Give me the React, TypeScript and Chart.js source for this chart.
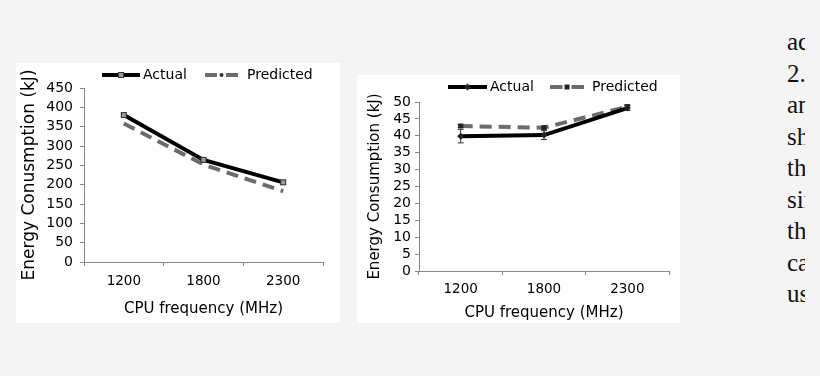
import React, { useEffect, useRef } from 'react';
import { Chart, registerables } from 'chart.js';

Chart.register(...registerables);

// ---------- data ----------
const categories = ['1200', '1800', '2300'];

const leftActual = [380, 264, 206];
const leftPredicted = [358, 252, 183];
const leftActualErr = [3, 3, 5];
const leftYMax = 450;
const leftYStep = 50;

const rightActual = [39.9, 40.2, 48.2];
const rightPredicted = [42.9, 42.4, 48.6];
const rightActualErr = [2.0, 1.3, 0.7];
const rightPredictedErr = [0.4, 0.4, 0.6];
const rightYMax = 50;
const rightYStep = 5;

const seriesNames = ['Actual', 'Predicted'];
const xTitle = 'CPU frequency (MHz)';
const leftYTitle = 'Energy Conusmption (kJ)';
const rightYTitle = 'Energy Consumption (kJ)';

const sideWords = ['actual', '2.', 'and', 'shows', 'the', 'since', 'that', 'can', 'use'];

// ---------- styling ----------
const FONT = "'DejaVu Sans', Verdana, sans-serif";
const AXIS = '#868686';
const ACT = '#000000';
const PRED = '#6b6b6b';

function drawMarker(ctx: CanvasRenderingContext2D, kind: string, x: number, y: number) {
  ctx.save();
  if (kind === 'hollowSquare') {
    ctx.fillStyle = '#9a9a9a';
    ctx.strokeStyle = '#333';
    ctx.lineWidth = 1;
    ctx.fillRect(x - 2.5, y - 2.5, 5, 5);
    ctx.strokeRect(x - 2.5, y - 2.5, 5, 5);
  } else if (kind === 'diamond') {
    ctx.fillStyle = '#222';
    ctx.beginPath();
    ctx.moveTo(x, y - 3.5);
    ctx.lineTo(x + 3.5, y);
    ctx.lineTo(x, y + 3.5);
    ctx.lineTo(x - 3.5, y);
    ctx.closePath();
    ctx.fill();
  } else if (kind === 'square') {
    ctx.fillStyle = '#222';
    ctx.fillRect(x - 2.5, y - 2.5, 5, 5);
  } else if (kind === 'dot') {
    ctx.fillStyle = '#333';
    ctx.beginPath();
    ctx.arc(x, y, 2, 0, Math.PI * 2);
    ctx.fill();
  }
  ctx.restore();
}

const errorBarPlugin = {
  id: 'errorBars',
  afterDatasetsDraw(chart: any) {
    const ctx = chart.ctx;
    const y = chart.scales.y;
    chart.data.datasets.forEach((ds: any, di: number) => {
      const errs = ds.errors;
      if (!errs) return;
      const meta = chart.getDatasetMeta(di);
      ctx.save();
      ctx.strokeStyle = '#333';
      ctx.lineWidth = 1;
      meta.data.forEach((pt: any, i: number) => {
        const v = ds.data[i];
        const e = errs[i];
        const y1 = y.getPixelForValue(v + e);
        const y2 = y.getPixelForValue(v - e);
        const x = pt.x;
        ctx.beginPath();
        ctx.moveTo(x, y1);
        ctx.lineTo(x, y2);
        ctx.moveTo(x - 3, y1);
        ctx.lineTo(x + 3, y1);
        ctx.moveTo(x - 3, y2);
        ctx.lineTo(x + 3, y2);
        ctx.stroke();
      });
      ctx.restore();
      meta.data.forEach((pt: any) => drawMarker(ctx, ds.markerKind, pt.x, pt.y));
    });
  },
};

const customLegendPlugin = {
  id: 'customLegend',
  afterDraw(chart: any, _args: any, opts: any) {
    const ctx = chart.ctx as CanvasRenderingContext2D;
    const y = opts.y;
    ctx.save();
    ctx.font = `14px ${FONT}`;
    ctx.fillStyle = '#000';
    ctx.textBaseline = 'middle';
    opts.items.forEach((it: any) => {
      ctx.lineWidth = 4;
      ctx.lineCap = 'butt';
      if (it.dashed) {
        ctx.strokeStyle = PRED;
        const seg = (it.sw - 9) / 2;
        ctx.beginPath();
        ctx.moveTo(it.sx, y);
        ctx.lineTo(it.sx + seg, y);
        ctx.moveTo(it.sx + it.sw - seg, y);
        ctx.lineTo(it.sx + it.sw, y);
        ctx.stroke();
      } else {
        ctx.strokeStyle = ACT;
        ctx.beginPath();
        ctx.moveTo(it.sx, y);
        ctx.lineTo(it.sx + it.sw, y);
        ctx.stroke();
      }
      drawMarker(ctx, it.marker, it.sx + it.sw / 2, y);
      ctx.fillStyle = '#000';
      ctx.fillText(it.label, it.tx, y + 0.5);
    });
    ctx.restore();
  },
};

type PanelSpec = {
  width: number;
  height: number;
  actual: number[];
  predicted: number[];
  actualErr: number[];
  predictedErr?: number[];
  yMax: number;
  yStep: number;
  yTitle: string;
  yTitleSize: number;
  yTitlePad: number;
  yTickSize: number;
  yTickPad: number;
  yWidth: number;
  xHeight: number;
  xTickPad: number;
  xTitlePad: number;
  padTop: number;
  padRight: number;
  actualMarker: string;
  predictedMarker: string;
  legendY: number;
  legendItems: any[];
};

function ChartPanel({ spec }: { spec: PanelSpec }) {
  const ref = useRef<HTMLCanvasElement | null>(null);
  useEffect(() => {
    if (!ref.current) return;
    const chart = new Chart(ref.current, {
      type: 'line',
      data: {
        labels: categories,
        datasets: [
          {
            label: seriesNames[0],
            data: spec.actual,
            borderColor: ACT,
            borderWidth: 4,
            pointRadius: 0,
            tension: 0,
            errors: spec.actualErr,
            markerKind: spec.actualMarker,
            order: 1,
          } as any,
          {
            label: seriesNames[1],
            data: spec.predicted,
            borderColor: PRED,
            borderWidth: 4,
            borderDash: [12, 7],
            pointRadius: 0,
            tension: 0,
            errors: spec.predictedErr,
            markerKind: spec.predictedMarker,
            order: 2,
          } as any,
        ],
      },
      options: {
        responsive: false,
        maintainAspectRatio: false,
        animation: false,
        events: [],
        layout: { padding: { left: 0, right: spec.padRight, top: spec.padTop, bottom: 0 } },
        font: { family: FONT },
        plugins: {
          legend: { display: false },
          tooltip: { enabled: false },
          customLegend: { y: spec.legendY, items: spec.legendItems },
        } as any,
        scales: {
          x: {
            type: 'category',
            offset: true,
            grid: {
              display: true,
              drawOnChartArea: false,
              offset: true,
              tickLength: 4,
              color: AXIS,
            },
            border: { color: AXIS, width: 1 },
            ticks: {
              padding: spec.xTickPad,
              font: { family: FONT, size: 13.5 },
              color: '#000',
              maxRotation: 0,
              autoSkip: false,
            },
            title: {
              display: true,
              text: xTitle,
              color: '#000',
              font: { family: FONT, size: 15 },
              padding: { top: 0, bottom: spec.xTitlePad },
            },
            afterFit: (s: any) => {
              s.height = spec.xHeight;
            },
          },
          y: {
            min: 0,
            max: spec.yMax,
            ticks: {
              stepSize: spec.yStep,
              padding: spec.yTickPad,
              font: { family: FONT, size: spec.yTickSize },
              color: '#000',
              autoSkip: false,
            },
            grid: { drawOnChartArea: false, tickLength: 4, color: AXIS },
            border: { color: AXIS, width: 1 },
            title: {
              display: true,
              text: spec.yTitle,
              color: '#000',
              font: { family: FONT, size: spec.yTitleSize },
              padding: { top: spec.yTitlePad, bottom: 0 },
            },
            afterFit: (s: any) => {
              s.width = spec.yWidth;
            },
          },
        },
      } as any,
      plugins: [errorBarPlugin, customLegendPlugin],
    });
    return () => chart.destroy();
  }, [spec]);
  return (
    <canvas
      ref={ref}
      width={spec.width}
      height={spec.height}
      style={{ display: 'block', width: spec.width, height: spec.height }}
    />
  );
}

const leftSpec: PanelSpec = {
  width: 324,
  height: 260,
  actual: leftActual,
  predicted: leftPredicted,
  actualErr: leftActualErr,
  yMax: leftYMax,
  yStep: leftYStep,
  yTitle: leftYTitle,
  yTitleSize: 17,
  yTitlePad: 3,
  yTickSize: 14,
  yTickPad: 7,
  yWidth: 68,
  xHeight: 61,
  xTickPad: 7,
  xTitlePad: 5,
  padTop: 25,
  padRight: 17,
  actualMarker: 'hollowSquare',
  predictedMarker: 'dot',
  legendY: 12,
  legendItems: [
    { label: seriesNames[0], sx: 86, sw: 38, tx: 127, marker: 'hollowSquare', dashed: false },
    { label: seriesNames[1], sx: 189, sw: 33, tx: 231, marker: 'dot', dashed: true },
  ],
};

const rightSpec: PanelSpec = {
  width: 323,
  height: 248,
  actual: rightActual,
  predicted: rightPredicted,
  actualErr: rightActualErr,
  predictedErr: rightPredictedErr,
  yMax: rightYMax,
  yStep: rightYStep,
  yTitle: rightYTitle,
  yTitleSize: 15,
  yTitlePad: 9,
  yTickSize: 14,
  yTickPad: 4,
  yWidth: 62,
  xHeight: 52,
  xTickPad: 6,
  xTitlePad: 1,
  padTop: 27,
  padRight: 11,
  actualMarker: 'diamond',
  predictedMarker: 'square',
  legendY: 12,
  legendItems: [
    { label: seriesNames[0], sx: 91, sw: 39, tx: 133, marker: 'diamond', dashed: false },
    { label: seriesNames[1], sx: 193, sw: 34, tx: 235, marker: 'square', dashed: true },
  ],
};

export default function App() {
  return (
    <div
      style={{
        position: 'fixed',
        left: 0,
        top: 0,
        width: 820,
        height: 376,
        background: '#f4f4f4',
        overflow: 'hidden',
      }}
    >
      <div style={{ position: 'absolute', left: 16, top: 63, width: 324, height: 260, background: '#fff' }}>
        <ChartPanel spec={leftSpec} />
      </div>
      <div style={{ position: 'absolute', left: 357, top: 75, width: 323, height: 248, background: '#fff' }}>
        <ChartPanel spec={rightSpec} />
      </div>
      <div
        style={{
          position: 'absolute',
          left: 787,
          top: 26,
          width: 18,
          overflow: 'hidden',
          fontFamily: "'Liberation Serif', 'DejaVu Serif', serif",
          fontSize: 25,
          lineHeight: '31.5px',
          color: '#111',
          whiteSpace: 'nowrap',
        }}
      >
        {sideWords.map((w, i) => (
          <div key={i}>{w}</div>
        ))}
      </div>
    </div>
  );
}
